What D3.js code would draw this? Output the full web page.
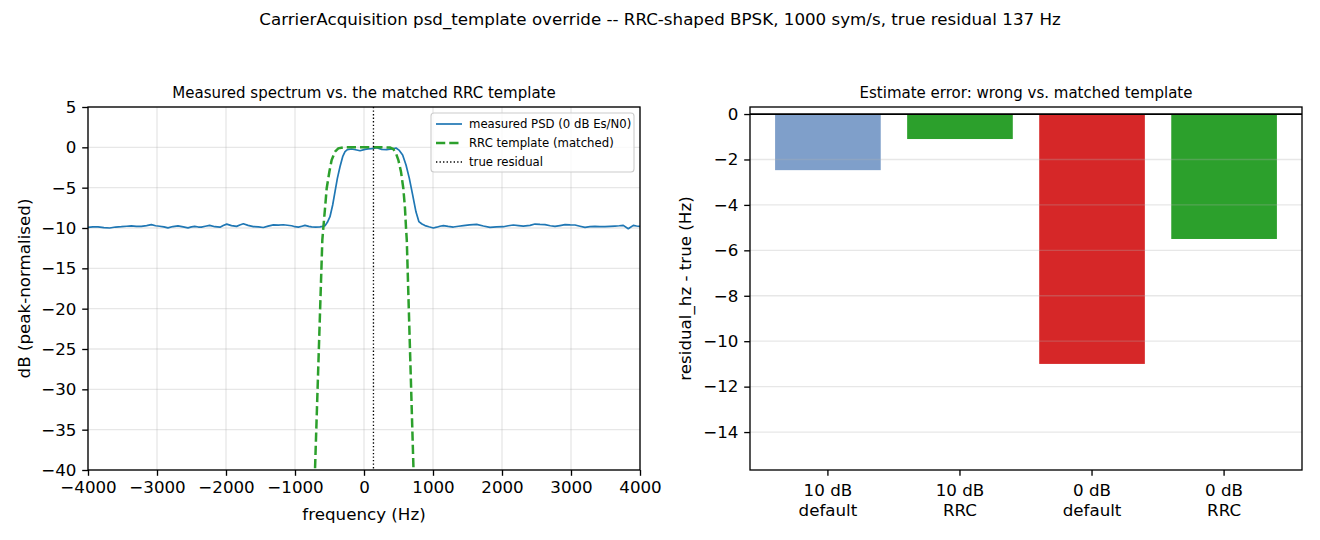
<!DOCTYPE html>
<html>
<head>
<meta charset="utf-8">
<script src="https://cdn.jsdelivr.net/npm/d3@7"></script>
<style>
body { margin: 0; background: #fff; }
svg { font-family: "DejaVu Sans", sans-serif; }
</style>
</head>
<body>
<svg id="fig" width="1320" height="540"></svg>
<script>
// measured PSD (Hz, dB)
const psdFreq = [-4000,-3930,-3855,-3770,-3686,-3600,-3517,-3440,-3372,-3300,-3227,-3150,-3082,-3020,-2961,-2900,-2841,-2770,-2696,-2620,-2551,-2500,-2454,-2400,-2358,-2300,-2237,-2160,-2087,-2040,-1990,-1920,-1846,-1800,-1749,-1680,-1604,-1530,-1459,-1390,-1314,-1240,-1169,-1110,-1049,-1000,-952,-900,-856,-800,-759,-700,-638,-600,-565,
  -531,-493,-454,-420,-386,-348,-309,-275,-241,-179,-106,-58,15,60,111,184,256,328,401,464,512,560,609,657,705,753,795,840,884,940,
  1005,1053,1100,1150,1220,1295,1370,1440,1530,1633,1730,1826,1920,2019,2090,2164,2240,2309,2406,2478,2550,2623,2700,2768,2840,2913,2990,3058,3130,3203,3275,3347,3420,3492,3565,3637,3700,3758,3830,3903,3950,4000];
const psdDb = [-9.92,-9.85,-9.86,-9.95,-10.0,-9.88,-9.84,-9.78,-9.74,-9.80,-9.80,-9.70,-9.58,-9.72,-9.78,-9.86,-9.98,-9.82,-9.74,-9.86,-9.98,-9.86,-9.80,-9.88,-9.90,-9.78,-9.68,-9.84,-9.90,-9.70,-9.52,-9.70,-9.80,-9.62,-9.48,-9.68,-9.82,-9.85,-9.94,-9.76,-9.62,-9.64,-9.60,-9.66,-9.72,-9.84,-9.90,-9.78,-9.68,-9.80,-9.86,-9.90,-9.86,-9.80,-9.72,
  -9.3,-8.6,-7.15,-5.5,-3.85,-2.4,-1.16,-0.54,-0.29,-0.21,-0.33,-0.42,-0.25,-0.2,-0.17,-0.05,-0.25,-0.29,-0.21,-0.08,-0.38,-0.95,-2.2,-3.85,-5.9,-8.0,-9.2,-9.5,-9.7,-9.85,
  -10.0,-9.9,-9.78,-9.71,-9.80,-9.88,-9.78,-9.71,-9.62,-9.55,-9.75,-9.92,-9.86,-9.84,-9.72,-9.63,-9.70,-9.76,-9.67,-9.51,-9.56,-9.59,-9.72,-9.80,-9.70,-9.59,-9.62,-9.63,-9.78,-9.92,-9.84,-9.80,-9.82,-9.84,-9.80,-9.76,-9.72,-9.67,-10.09,-9.67,-9.75,-9.80];

// RRC template (matched)
const rrcFreq = [-740,-604,-590,-565,-541,-502,-469,-420,-372,-300,0,300,377,425,464,498,536,570,594,609,620,745];
const rrcDb = [-48,-11.5,-10.05,-7.57,-5.1,-3.02,-1.57,-0.54,-0.13,0,0,0,-0.02,-0.21,-0.75,-1.57,-3.02,-5.1,-7.57,-10.0,-11.5,-48];

const trueResidual = 137;
const specXTicks = [-4000,-3000,-2000,-1000,0,1000,2000,3000,4000];
const specYTicks = [5,0,-5,-10,-15,-20,-25,-30,-35,-40];
const legendLabels = ["measured PSD (0 dB Es/N0)", "RRC template (matched)", "true residual"];

const barSnr = ["10 dB", "10 dB", "0 dB", "0 dB"];
const barTemplate = ["default", "RRC", "default", "RRC"];
const barErr = [-2.47, -1.1, -11.0, -5.5];
const barColor = ["#7f9fca", "#2ca02c", "#d62728", "#2ca02c"];
const errYTicks = [0,-2,-4,-6,-8,-10,-12,-14];

let svg = d3.select("#fig");
let fs = 16.7, lw = 1.33, tickLen = 5.8;

svg.append("text")
    .attr("x", 660).attr("y", 25)
    .attr("text-anchor", "middle")
    .style("font-size", "16.7px")
    .text("CarrierAcquisition psd_template override -- RRC-shaped BPSK, 1000 sym/s, true residual 137 Hz");

function frame(g, a){
    g.append("rect")
        .attr("x", a.left).attr("y", a.top)
        .attr("width", a.right - a.left).attr("height", a.bottom - a.top)
        .attr("fill", "none").attr("stroke", "#000").attr("stroke-width", lw);
}

function styleAxis(sel){
    sel.select(".domain").remove();
    sel.selectAll(".tick line").attr("stroke", "#000").attr("stroke-width", lw);
    sel.selectAll(".tick text").attr("fill", "#000").style("font-size", fs + "px").style("font-family", "DejaVu Sans");
}

// ---------- left: spectrum ----------
let L = {left: 88, right: 640, top: 107, bottom: 470};
let xL = d3.scaleLinear().domain([-4000, 4000]).range([L.left, L.right]);
let yL = d3.scaleLinear().domain([-40, 5]).range([L.bottom, L.top]);
let gL = svg.append("g");

gL.append("clipPath").attr("id", "clipL").append("rect")
    .attr("x", L.left).attr("y", L.top).attr("width", L.right - L.left).attr("height", L.bottom - L.top);

let gridL = gL.append("g").attr("stroke", "#b0b0b0").attr("stroke-opacity", 0.3).attr("stroke-width", lw);
gridL.selectAll(".vx").data(specXTicks).enter().append("line")
    .attr("x1", d => xL(d)).attr("x2", d => xL(d)).attr("y1", L.top).attr("y2", L.bottom);
gridL.selectAll(".hy").data(specYTicks).enter().append("line")
    .attr("y1", d => yL(d)).attr("y2", d => yL(d)).attr("x1", L.left).attr("x2", L.right);

let plotL = gL.append("g").attr("clip-path", "url(#clipL)");
let line = d3.line().x(d => xL(d[0])).y(d => yL(d[1]));

plotL.append("path")
    .attr("d", line(d3.zip(psdFreq, psdDb)))
    .attr("fill", "none").attr("stroke", "#1f77b4").attr("stroke-width", 1.7)
    .attr("stroke-linejoin", "round");
plotL.append("path")
    .attr("d", line(d3.zip(rrcFreq, rrcDb)))
    .attr("fill", "none").attr("stroke", "#2ca02c").attr("stroke-width", 2.5)
    .attr("stroke-dasharray", "9.25,4");
plotL.append("line")
    .attr("x1", xL(trueResidual)).attr("x2", xL(trueResidual))
    .attr("y1", L.top).attr("y2", L.bottom)
    .attr("stroke", "#000").attr("stroke-width", lw).attr("stroke-dasharray", "1.33,2.2");

gL.append("g").attr("transform", "translate(0," + L.bottom + ")")
    .call(d3.axisBottom(xL).tickValues(specXTicks).tickSize(tickLen).tickPadding(5.8).tickFormat(d3.format("d")))
    .call(styleAxis);
gL.append("g").attr("transform", "translate(" + L.left + ",0)")
    .call(d3.axisLeft(yL).tickValues(specYTicks).tickSize(tickLen).tickPadding(5.8).tickFormat(d3.format("d")))
    .call(styleAxis);
frame(gL, L);

gL.append("text").attr("x", (L.left + L.right) / 2).attr("y", 98)
    .attr("text-anchor", "middle").style("font-size", "15px")
    .text("Measured spectrum vs. the matched RRC template");
gL.append("text").attr("x", (L.left + L.right) / 2).attr("y", 520)
    .attr("text-anchor", "middle").style("font-size", fs + "px")
    .text("frequency (Hz)");
gL.append("text").attr("transform", "translate(30," + ((L.top + L.bottom) / 2) + ") rotate(-90)")
    .attr("text-anchor", "middle").style("font-size", fs + "px")
    .text("dB (peak-normalised)");

// legend
let leg = gL.append("g");
leg.append("rect").attr("x", 431).attr("y", 113).attr("width", 203).attr("height", 59)
    .attr("rx", 3).attr("fill", "#fff").attr("fill-opacity", 0.8)
    .attr("stroke", "#cccccc").attr("stroke-width", 1.1);
let legStyle = [
    {c: "#1f77b4", w: 1.7, dash: null},
    {c: "#2ca02c", w: 2.5, dash: "9.25,4"},
    {c: "#000", w: lw, dash: "1.33,2.2"}
];
legendLabels.forEach(function(t, i){
    let y = 124 + i * 19;
    leg.append("line").attr("x1", 436).attr("x2", 462).attr("y1", y).attr("y2", y)
        .attr("stroke", legStyle[i].c).attr("stroke-width", legStyle[i].w)
        .attr("stroke-dasharray", legStyle[i].dash);
    leg.append("text").attr("x", 469).attr("y", y + 4.2)
        .style("font-size", "11.7px").text(t);
});

// ---------- right: estimate error bars ----------
let R = {left: 750, right: 1302, top: 107, bottom: 470};
let cats = d3.range(barErr.length);
let xR = d3.scaleBand().domain(cats).range([R.left, R.right]).paddingInner(0.2).paddingOuter(0.19);
let yR = d3.scaleLinear().domain([-15.67, 0.31]).range([R.bottom, R.top]);
let gR = svg.append("g");

gR.selectAll(".bar").data(cats).enter().append("rect")
    .attr("x", i => xR(i)).attr("width", xR.bandwidth())
    .attr("y", i => yR(Math.max(0, barErr[i])))
    .attr("height", i => Math.abs(yR(barErr[i]) - yR(0)))
    .attr("fill", i => barColor[i]);

gR.append("g").attr("stroke", "#b0b0b0").attr("stroke-opacity", 0.3).attr("stroke-width", lw)
    .selectAll("line").data(errYTicks).enter().append("line")
    .attr("y1", d => yR(d)).attr("y2", d => yR(d)).attr("x1", R.left).attr("x2", R.right);

gR.append("line").attr("x1", R.left).attr("x2", R.right)
    .attr("y1", yR(0)).attr("y2", yR(0))
    .attr("stroke", "#000").attr("stroke-width", 1.67);

let axR = gR.append("g").attr("transform", "translate(0," + R.bottom + ")")
    .call(d3.axisBottom(xR).tickSize(tickLen).tickPadding(8.5).tickFormat(""))
    .call(styleAxis);
axR.selectAll(".tick text").each(function(i){
    let t = d3.select(this);
    t.append("tspan").attr("x", 0).attr("dy", "0.71em").text(barSnr[i]);
    t.append("tspan").attr("x", 0).attr("dy", "1.2em").text(barTemplate[i]);
});
gR.append("g").attr("transform", "translate(" + R.left + ",0)")
    .call(d3.axisLeft(yR).tickValues(errYTicks).tickSize(tickLen).tickPadding(5.8).tickFormat(d3.format("d")))
    .call(styleAxis);
frame(gR, R);

gR.append("text").attr("x", (R.left + R.right) / 2).attr("y", 98)
    .attr("text-anchor", "middle").style("font-size", "15px")
    .text("Estimate error: wrong vs. matched template");
gR.append("text").attr("transform", "translate(691," + ((R.top + R.bottom) / 2) + ") rotate(-90)")
    .attr("text-anchor", "middle").style("font-size", fs + "px")
    .text("residual_hz - true (Hz)");
</script>
</body>
</html>
